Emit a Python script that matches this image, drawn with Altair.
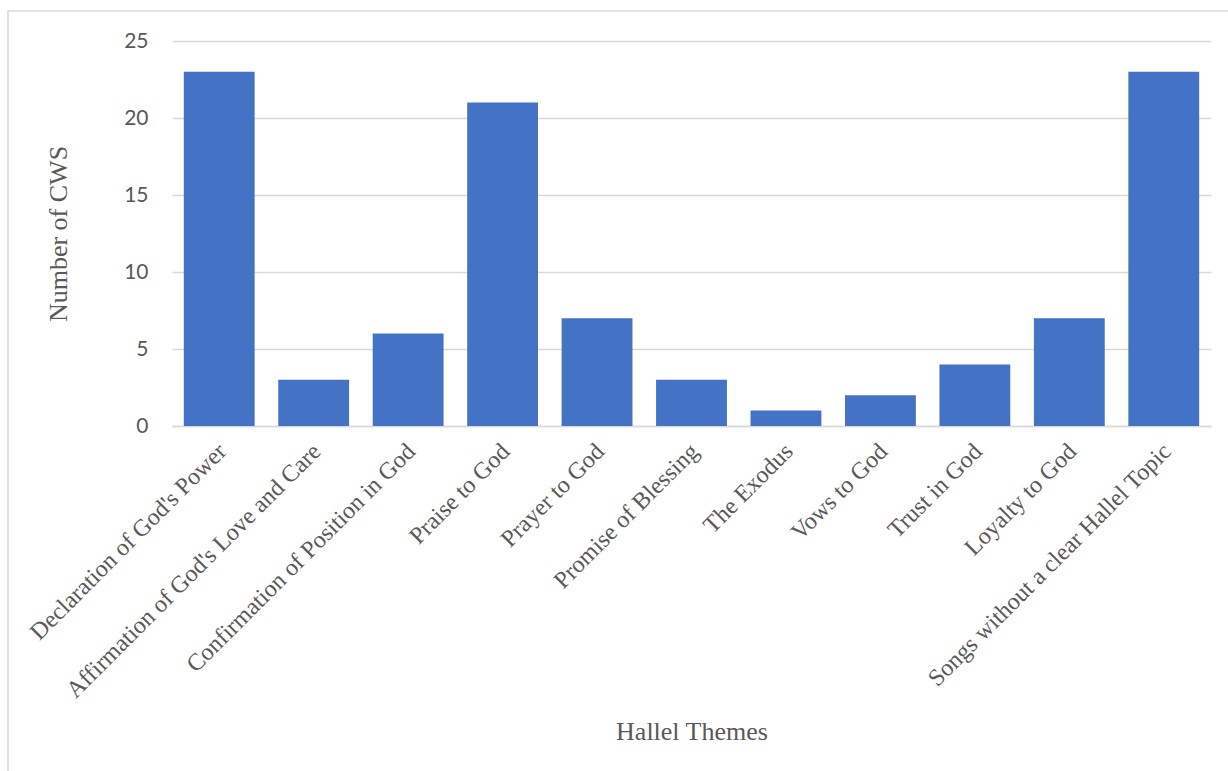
import altair as alt
import pandas as pd

themes = [
    "Declaration of God's Power",
    "Affirmation of God's Love and Care",
    "Confirmation of Position in God",
    "Praise to God",
    "Prayer to God",
    "Promise of Blessing",
    "The Exodus",
    "Vows to God",
    "Trust in God",
    "Loyalty to God",
    "Songs without a clear Hallel Topic",
]
counts = [23, 3, 6, 21, 7, 3, 1, 2, 4, 7, 23]
y_ticks = [0, 5, 10, 15, 20, 25]

df = pd.DataFrame({"theme": themes, "count": counts})

W, H = 1039, 385
PAD_L, PAD_T = 172, 41
PAD_R, PAD_B = 1228 - PAD_L - W, 771 - PAD_T - H

TEXT = "#595959"
GRID = "#d9d9d9"

bars = alt.Chart(df).mark_bar(color="#4472C4").encode(
    x=alt.X(
        "theme:N",
        sort=themes,
        title="Hallel Themes",
        scale=alt.Scale(paddingInner=0.25, paddingOuter=0.125),
        axis=alt.Axis(
            labelAngle=-45,
            labelFont="Liberation Serif",
            labelFontSize=24,
            labelColor=TEXT,
            labelPadding=13,
            labelOffset=-5,
            labelLimit=400,
            ticks=False,
            domainColor=GRID,
            domainWidth=1.5,
            titleFont="Liberation Serif",
            titleFontSize=26,
            titleFontWeight="normal",
            titleColor=TEXT,
            titleY=313,
            titleBaseline="alphabetic",
        ),
    ),
    y=alt.Y(
        "count:Q",
        title="Number of CWS",
        scale=alt.Scale(domain=[0, 25], nice=False),
        axis=alt.Axis(
            values=y_ticks,
            labelFont="Lato",
            labelFontSize=21,
            labelColor=TEXT,
            labelPadding=24,
            ticks=False,
            domain=False,
            gridColor=GRID,
            gridWidth=1.5,
            titleFont="Liberation Serif",
            titleFontSize=26,
            titleFontWeight="normal",
            titleColor=TEXT,
            titleX=-114,
            titleBaseline="middle",
        ),
    ),
)

border_df = pd.DataFrame({"k": [0]})
border = alt.Chart(border_df).mark_rect(
    fill=None, stroke=GRID, strokeWidth=1.5
).encode(
    x=alt.value(8 - PAD_L),
    x2=alt.value(W + PAD_R + 20),
    y=alt.value(11 - PAD_T),
    y2=alt.value(H + PAD_B + 20),
)

chart = alt.layer(border, bars).properties(
    width=W,
    height=H,
    autosize="none",
    padding={"left": PAD_L, "top": PAD_T, "right": PAD_R, "bottom": PAD_B},
    background="white",
).configure_view(stroke=None)

chart.save("out.html", embed_options={"renderer": "svg", "actions": False})
